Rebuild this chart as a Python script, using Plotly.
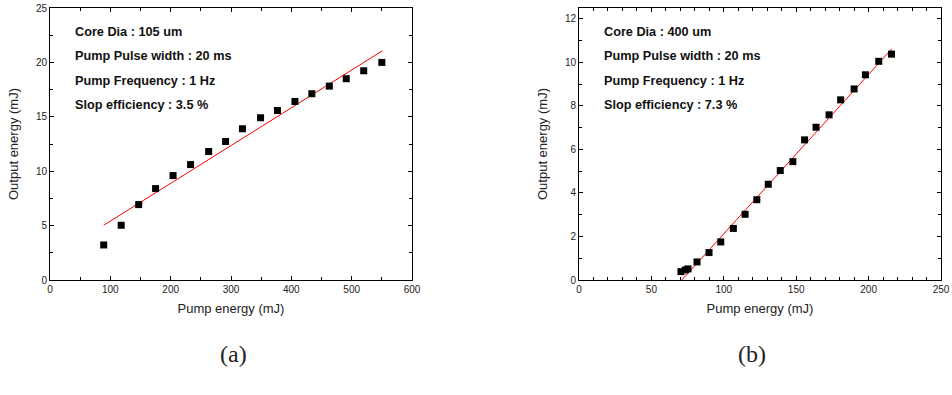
import plotly.graph_objects as go

# (a) Core Dia 105 um
pump_a = [89, 118, 147, 175, 204, 233, 263, 291, 319, 349, 377, 406, 434, 463, 491, 520, 550]
out_a = [3.22, 5.03, 6.93, 8.40, 9.60, 10.61, 11.81, 12.73, 13.90, 14.91, 15.58, 16.41, 17.12, 17.82, 18.50, 19.23, 20.0]
fit_a_x = [89, 551]
fit_a_y = [5.03, 21.07]

# (b) Core Dia 400 um
pump_b = [70.4, 73.4, 75.3, 81.5, 89.8, 97.9, 106.6, 114.7, 122.8, 130.7, 139, 147.7, 155.8, 163.7,
          172.7, 180.7, 190, 197.8, 207, 215.8]
out_b = [0.385, 0.46, 0.51, 0.83, 1.26, 1.75, 2.37, 3.02, 3.69, 4.40, 5.03, 5.44, 6.44, 7.02,
         7.59, 8.28, 8.78, 9.43, 10.05, 10.38]
fit_b_x = [71, 216]
fit_b_y = [0.0, 10.62]

notes_a = ["Core Dia : 105 um", "Pump Pulse width : 20 ms", "Pump Frequency : 1 Hz", "Slop efficiency : 3.5 %"]
notes_b = ["Core Dia : 400 um", "Pump Pulse width : 20 ms", "Pump Frequency : 1 Hz", "Slop efficiency : 7.3 %"]

W, H = 952, 395
fig = go.Figure()

def px_x(p):
    return p / W

def px_y(p):
    return 1 - p / H

top, bottom = 8, 280
fig.add_trace(go.Scatter(x=fit_a_x, y=fit_a_y, mode="lines", line=dict(color="#ff0000", width=1),
                         xaxis="x", yaxis="y", showlegend=False))
fig.add_trace(go.Scatter(x=pump_a, y=out_a, mode="markers",
                         marker=dict(symbol="square", size=7, color="black"),
                         xaxis="x", yaxis="y", showlegend=False))
fig.add_trace(go.Scatter(x=fit_b_x, y=fit_b_y, mode="lines", line=dict(color="#ff0000", width=1),
                         xaxis="x2", yaxis="y2", showlegend=False))
fig.add_trace(go.Scatter(x=pump_b, y=out_b, mode="markers",
                         marker=dict(symbol="square", size=7, color="black"),
                         xaxis="x2", yaxis="y2", showlegend=False))

tickfont = dict(family="Arial, Liberation Sans", size=10, color="#222")
titlefont = dict(family="Arial, Liberation Sans", size=13, color="#222")

def ax(domain, rng, dtick, minor, title, anchor, standoff):
    return dict(domain=domain, range=rng, dtick=dtick, tick0=0, showgrid=False, zeroline=False,
                showline=True, linecolor="black", linewidth=1, mirror="ticks",
                ticks="inside", ticklen=4, tickcolor="black", tickwidth=1,
                minor=dict(ticks="inside", dtick=minor, ticklen=3, tickcolor="black", showgrid=False),
                tickfont=tickfont, title=dict(text=title, font=titlefont, standoff=standoff),
                anchor=anchor, automargin=False)

yd = [px_y(bottom), px_y(top)]
fig.update_layout(
    width=W, height=H, margin=dict(l=0, r=0, t=0, b=0),
    paper_bgcolor="white", plot_bgcolor="white",
    xaxis=ax([px_x(50), px_x(412)], [0, 600], 100, 50, "Pump energy (mJ)", "y", 9),
    yaxis=ax(yd, [0, 25], 5, 2.5, "Output energy (mJ)", "x", 14),
    xaxis2=ax([px_x(579), px_x(941)], [0, 250], 50, 10, "Pump energy (mJ)", "y2", 9),
    yaxis2=ax(yd, [0, 12.5], 2, 1, "Output energy (mJ)", "x2", 14),
)
fig.layout.yaxis2.tickvals = [0, 2, 4, 6, 8, 10, 12]

annos = []
for i, t in enumerate(notes_a):
    annos.append(dict(text="<b>%s</b>" % t, xref="paper", yref="paper", x=px_x(73), y=px_y(32 + 24.5 * i),
                      xanchor="left", yanchor="middle", showarrow=False,
                      font=dict(family="Arial, Liberation Sans", size=12.7, color="#111")))
for i, t in enumerate(notes_b):
    annos.append(dict(text="<b>%s</b>" % t, xref="paper", yref="paper", x=px_x(602), y=px_y(32 + 24.5 * i),
                      xanchor="left", yanchor="middle", showarrow=False,
                      font=dict(family="Arial, Liberation Sans", size=12.7, color="#111")))
for lab, xc in [("(a)", 233), ("(b)", 752)]:
    annos.append(dict(text=lab, xref="paper", yref="paper", x=px_x(xc), y=px_y(354),
                      xanchor="center", yanchor="middle", showarrow=False,
                      font=dict(family="Liberation Serif, DejaVu Serif", size=24, color="#222")))
fig.update_layout(annotations=annos)

fig.write_html("out.html", config={"displayModeBar": False},
               post_script="document.body.style.margin='0';")
